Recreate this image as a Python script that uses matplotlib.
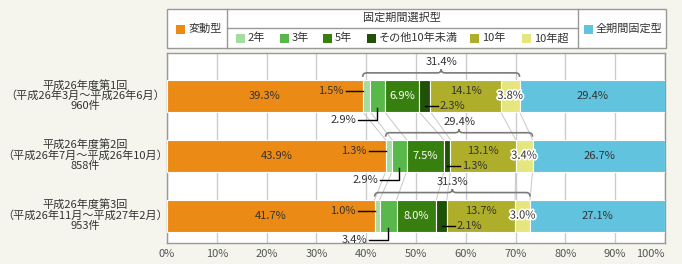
import numpy as np
import matplotlib.pyplot as plt
from matplotlib.patches import Rectangle, PathPatch
from matplotlib.path import Path
import matplotlib.patheffects as pe

plt.rcParams['font.family'] = ['Noto Sans CJK JP', 'DejaVu Sans']

# data
row_labels = [
    ["平成26年度第1回", "（平成26年3月～平成26年6月）", "960件"],
    ["平成26年度第2回", "（平成26年7月～平成26年10月）", "858件"],
    ["平成26年度第3回", "（平成26年11月～平成27年2月）", "953件"],
]
series_names = ["変動型", "2年", "3年", "5年", "その他10年未満", "10年", "10年超", "全期間固定型"]
hendo = [39.3, 43.9, 41.7]
y2 = [1.5, 1.3, 1.0]
y3 = [2.9, 2.9, 3.4]
y5 = [6.9, 7.5, 8.0]
y_other = [2.3, 1.3, 2.1]
y10 = [14.1, 13.1, 13.7]
y10p = [3.8, 3.4, 3.0]
zenki = [29.4, 26.7, 27.1]
fixed_total = [31.4, 29.4, 31.3]
xticks = list(range(0, 101, 10))

colors = ['#EC8A16', '#A3DDA0', '#58B84A', '#377F0E', '#1F5106', '#AFAE2A', '#E6E67F', '#62C3DF']
dark = '#333333'
bg = '#F5F5EE'

series = [hendo, y2, y3, y5, y_other, y10, y10p, zenki]
vals = np.array(series).T  # rows x segments
starts = np.hstack([np.zeros((3, 1)), np.cumsum(vals, axis=1)[:, :-1]])

fig = plt.figure(figsize=(6.82, 2.64), dpi=100, facecolor=bg)
ax = fig.add_axes([167 / 682, 21 / 264, 498 / 682, 190 / 264], zorder=1)
ylo, yhi = 2 + 27.5 / 60, -43 / 60
ax.set_xlim(0, 100)
ax.set_ylim(ylo, yhi)
PX = 100 / 498          # data units per pixel (x)
PY = (ylo - yhi) / 190  # data units per pixel (y, downward)
h = 32 * PY

ypos = np.arange(3)
for k in range(8):
    ax.barh(ypos, vals[:, k], left=starts[:, k], height=h, color=colors[k],
            edgecolor='white', linewidth=0.8, zorder=3)

# connector lines between bars
for i in range(2):
    for k in range(1, 8):
        ax.plot([starts[i, k], starts[i + 1, k]], [i + h / 2, i + 1 - h / 2],
                color='#c8c8c8', lw=0.7, zorder=2)

fs = 8
for i in range(3):
    s = starts[i]
    v = vals[i]
    c = s + v / 2
    top = i - h / 2
    bot = i + h / 2
    ax.text(c[0], i, f"{v[0]:.1f}%", ha='center', va='center', fontsize=fs, color=dark, zorder=5)
    ax.text(c[7], i, f"{v[7]:.1f}%", ha='center', va='center', fontsize=fs, color=dark, zorder=5)
    # 2年
    yl = i - 5 * PY
    ax.plot([s[1] - 17 * PX, s[1]], [yl, yl], color='black', lw=1, zorder=5)
    ax.text(s[1] - 19 * PX, yl, f"{v[1]:.1f}%", ha='right', va='center', fontsize=fs, color=dark, zorder=5)
    # 3年
    yl = bot + 8 * PY
    ax.plot([c[2] - 19 * PX, c[2], c[2]], [yl, yl, bot - 4 * PY], color='black', lw=1, zorder=5)
    ax.text(c[2] - 21 * PX, yl, f"{v[2]:.1f}%", ha='right', va='center', fontsize=fs, color=dark, zorder=5)
    # 5年
    ax.text(c[3], i, f"{v[3]:.1f}%", ha='center', va='center', fontsize=fs, color='white', zorder=5)
    # その他10年未満
    yl = i + 10.5 * PY
    ax.plot([c[4], c[4] + 13 * PX], [yl, yl], color='black', lw=1, zorder=5)
    ax.text(c[4] + 15 * PX, yl, f"{v[4]:.1f}%", ha='left', va='center', fontsize=fs, color=dark, zorder=5)
    # 10年
    ax.text(c[5], i - 5 * PY, f"{v[5]:.1f}%", ha='center', va='center', fontsize=fs, color=dark, zorder=5)
    # 10年超
    ax.text(c[6], i, f"{v[6]:.1f}%", ha='center', va='center', fontsize=fs, color=dark, zorder=5,
            path_effects=[pe.withStroke(linewidth=2.5, foreground='white')])

    # brace over fixed-period segments
    x0, x1 = s[1], s[7]
    xm = (x0 + x1) / 2
    ye = top - 3 * PY
    yb = top - 7 * PY
    yp = top - 10.5 * PY
    r = 4 * PX
    verts = [(x0, ye), (x0, yb), (x0 + r, yb),
             (xm - r, yb), (xm, yb), (xm, yp),
             (xm, yb), (xm + r, yb),
             (x1 - r, yb), (x1, yb), (x1, ye)]
    codes = [Path.MOVETO, Path.CURVE3, Path.CURVE3,
             Path.LINETO, Path.CURVE3, Path.CURVE3,
             Path.CURVE3, Path.CURVE3,
             Path.LINETO, Path.CURVE3, Path.CURVE3]
    ax.add_patch(PathPatch(Path(verts, codes), fill=False, edgecolor='#7a7a7a', lw=1.2,
                           zorder=4, clip_on=False))
    ax.text(xm, top - 18 * PY, f"{fixed_total[i]:.1f}%", ha='center', va='center',
            fontsize=fs, color=dark, zorder=5)

    # row labels
    for line, off in zip(row_labels[i], [11, 0, -10.5]):
        ax.annotate(line, xy=(-82 / 498, i), xycoords=ax.get_yaxis_transform(),
                    xytext=(0, off), textcoords='offset pixels', ha='center', va='center',
                    fontsize=fs, color=dark, annotation_clip=False)

ax.set_xticks(xticks)
ax.set_xticklabels([f"{t}%" for t in xticks])
ax.set_yticks([])
ax.tick_params(axis='x', length=0, pad=4, labelsize=fs, labelcolor='#555555')
ax.get_xticklabels()[-1].set_horizontalalignment('right')
ax.grid(axis='x', color='#cccccc', lw=1)
ax.set_axisbelow(True)
for sp in ax.spines.values():
    sp.set_color('#999999')
    sp.set_linewidth(1)

# legend table (pixel coordinates)
lg = fig.add_axes([0, 0, 1, 1], zorder=0)
lg.set_xlim(0, 682)
lg.set_ylim(264, 0)
lg.axis('off')
lg.add_patch(Rectangle((166.5, 8.5), 499, 39, facecolor='white', edgecolor='#999999', lw=1))
lg.plot([226.5, 226.5], [8.5, 47.5], color='#999999', lw=1)
lg.plot([577.5, 577.5], [8.5, 47.5], color='#999999', lw=1)
lg.plot([226.5, 577.5], [27.5, 27.5], color='#999999', lw=1)
lg.text(402, 18, "固定期間選択型", ha='center', va='center', fontsize=fs, color=dark)
item_pos = [(176, 29), (236, 38), (280, 38), (323, 38), (367, 38), (470, 38), (522, 38), (584, 29)]
for (px, py), name, col in zip(item_pos, series_names, colors):
    lg.add_patch(Rectangle((px, py - 4.5), 9, 9, facecolor=col, edgecolor='none'))
    lg.text(px + 12, py, name, ha='left', va='center', fontsize=fs, color=dark)

fig.savefig("out.png", dpi=100, facecolor=bg)
